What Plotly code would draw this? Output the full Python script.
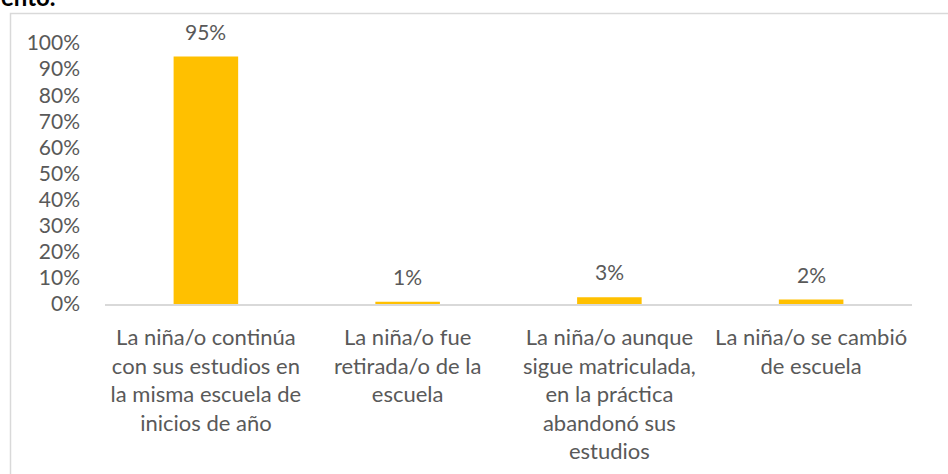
import plotly.graph_objects as go

categories = [
    "La niña/o continúa<br>con sus estudios en<br>la misma escuela de<br>inicios de año",
    "La niña/o fue<br>retirada/o de la<br>escuela",
    "La niña/o aunque<br>sigue matriculada,<br>en la práctica<br>abandonó sus<br>estudios",
    "La niña/o se cambió<br>de escuela",
]
values = [0.948, 0.009, 0.026, 0.017]
tick_vals = [0, 0.1, 0.2, 0.3, 0.4, 0.5, 0.6, 0.7, 0.8, 0.9, 1.0]
tick_text = ["0%", "10%", "20%", "30%", "40%", "50%", "60%", "70%", "80%", "90%", "100%"]

FONT = "Lato"
GREY = "#595959"
FS = 21

W, H = 948, 474
L, R, T, B = 105, 36, 43, 170
PW, PH = W - L - R, H - T - B


def px_x(x):
    return (x - L) / PW


def px_y(y):
    return 1 - (y - T) / PH


fig = go.Figure()
fig.add_trace(go.Bar(x=categories, y=values, marker=dict(color="#FFC000", line=dict(width=0)),
                     hoverinfo="skip"))

for c, v in zip(categories, values):
    fig.add_annotation(x=c, y=v, xref="x", yref="y", text=f"{v:.0%}", showarrow=False,
                       yanchor="bottom", yshift=11, font=dict(family=FONT, size=FS, color=GREY))

# cut-off title fragment from above
fig.add_annotation(xref="paper", yref="paper", x=px_x(-1), y=px_y(-4), text="<b>ento.</b>",
                   showarrow=False, xanchor="left", yanchor="middle",
                   font=dict(family=FONT, size=24, color="#000000"))

# chart border
fig.add_shape(type="rect", xref="paper", yref="paper", x0=px_x(10.5), x1=px_x(980),
              y0=px_y(13.5), y1=px_y(500), line=dict(color="#d9d9d9", width=1.5),
              fillcolor="rgba(0,0,0,0)", layer="below")

fig.update_layout(
    width=W, height=H,
    margin=dict(l=L, r=R, t=T, b=B, pad=0, autoexpand=False),
    paper_bgcolor="white", plot_bgcolor="white",
    bargap=0.68,
    showlegend=False,
    font=dict(family=FONT, size=FS, color=GREY),
    xaxis=dict(showline=True, linecolor="#d9d9d9", linewidth=1.5, showgrid=False,
               ticks="", tickangle=0, ticklabelstandoff=13, automargin=False,
               tickfont=dict(family=FONT, size=22, color=GREY)),
    yaxis=dict(range=[0, 1.0], tickvals=tick_vals, ticktext=tick_text, showgrid=False,
               zeroline=False, showline=False, ticks="", ticklabelstandoff=24, automargin=False,
               tickfont=dict(family=FONT, size=FS, color=GREY)),
)

fig.write_html("out.html", config={"displayModeBar": False, "staticPlot": True},
               post_script="document.body.style.margin='0';")
